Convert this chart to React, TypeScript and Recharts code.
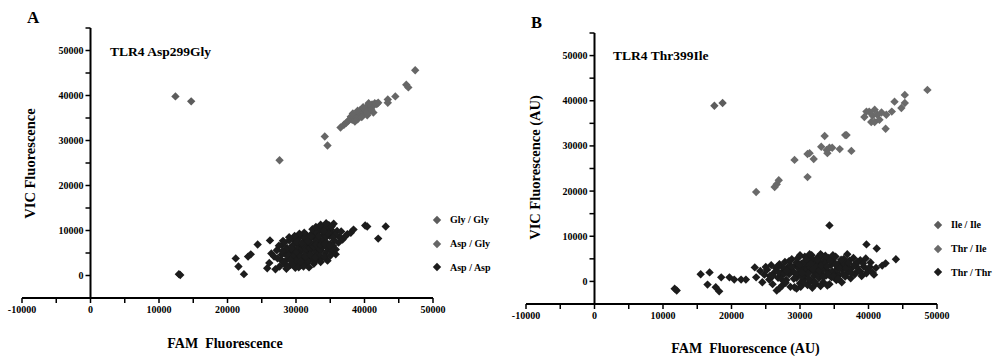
import React from "react";
import {
  ScatterChart,
  Scatter,
  XAxis,
  YAxis,
  ReferenceLine,
  Legend,
} from "recharts";

type Pt = [number, number];

// ---- shared axis ticks ----
const xTicks = [-10000, -5000, 0, 5000, 10000, 15000, 20000, 25000, 30000, 35000, 40000, 45000, 50000];
const yTicks = [0, 5000, 10000, 15000, 20000, 25000, 30000, 35000, 40000, 45000, 50000, 55000];

// ---- panel A: TLR4 Asp299Gly ----
const glyGlyA: Pt[] = [
  [12400, 39800], [14700, 38700],
];

const aspGlyA: Pt[] = [
  [27600, 25600], [34200, 30900], [34600, 28900], [36500, 32900], [37000, 33500],
  [37300, 33900], [37600, 34300], [37900, 34800], [38000, 35300], [38200, 34600],
  [38400, 35300], [38700, 35000], [38900, 35700], [39000, 34700], [39100, 35400],
  [39300, 36100], [39400, 36800], [39500, 35800], [39600, 36500], [39800, 36200],
  [40000, 36900], [40200, 36600], [40300, 37300], [40400, 35600], [40500, 37000],
  [40600, 37900], [40700, 37600], [40900, 37300], [41100, 38000], [41300, 37700],
  [41300, 36200], [41500, 38300], [41800, 38100], [42000, 38400], [43400, 39100],
  [43400, 38400], [44500, 39800], [46100, 42400], [46400, 41800], [47400, 45600],
  [38300, 36000], [39000, 36600], [39800, 37400], [40600, 38300], [38600, 34200],
  [39600, 35200], [40500, 36100], [41000, 36800],
];

const aspAspA: Pt[] = [
  [12900, 300], [13100, 100], [21200, 3800], [21600, 2000], [22400, 300],
  [23000, 4200], [23400, 4700], [24400, 6900], [26200, 7800], [25800, 1600],
  [26100, 2800], [26400, 4900], [26800, 4200], [27200, 5600], [27000, 1400],
  [27600, 2000], [27800, 3500], [28000, 6800], [28100, 7700], [28300, 2600],
  [28400, 4800], [28600, 1500], [28700, 6100], [28800, 3700], [29000, 7800],
  [29100, 5200], [29200, 2300], [29400, 4300], [29500, 6700], [29600, 8100],
  [29700, 3100], [29800, 5600], [29900, 1700], [30000, 7300], [30100, 4700],
  [30200, 2800], [30300, 6200], [30400, 8300], [30500, 3900], [30600, 5200],
  [30700, 7000], [30800, 2400], [30900, 6000], [31000, 8600], [31100, 4300],
  [31200, 3200], [31300, 7500], [31400, 5500], [31500, 9000], [31600, 2800],
  [31700, 6500], [31800, 4700], [31900, 8000], [32000, 3700], [32100, 7200],
  [32200, 5900], [32300, 9300], [32400, 4200], [32500, 6800], [32600, 2600],
  [32700, 8400], [32800, 5300], [32900, 7600], [33000, 3600], [33100, 9600],
  [33200, 6300], [33300, 4700], [33400, 8000], [33500, 10200], [33600, 5600],
  [33700, 7100], [33800, 3900], [33900, 9000], [34000, 6500], [34100, 10800],
  [34200, 8200], [34300, 5000], [34400, 7400], [34500, 9600], [34600, 3300],
  [34700, 6000], [34800, 11200], [34900, 8800], [35000, 7000], [35100, 10200],
  [35200, 5400], [35300, 9300], [35500, 11500], [35600, 7800], [35800, 4700],
  [35800, 5800], [36000, 9900], [36300, 8600], [36800, 8000], [37500, 9200],
  [38000, 9500], [38400, 10200], [40100, 11100], [40400, 10900], [42000, 8200],
  [43100, 10900], [28900, 4500], [29300, 6000], [30000, 5000], [30600, 4200],
  [31000, 6800], [31500, 5900], [32000, 6100], [32300, 7000], [32600, 6400],
  [33000, 7800], [33300, 8700], [33800, 7400], [34300, 8800], [34700, 9400],
  [30200, 7500], [31300, 8400], [32800, 9800], [33400, 6000], [31800, 3200],
  [29600, 4100], [28500, 5800], [27900, 4600], [34500, 11000], [35200, 10900],
  [33900, 10600], [32400, 10300], [31200, 9500],
  [28200, 3000], [28800, 2000], [29500, 2500], [30400, 1800], [31100, 2000],
  [31900, 1800], [32700, 3300], [33500, 4300], [34200, 4200], [35000, 4400],
  [35400, 6600], [35700, 9000], [34000, 9900], [32900, 10800], [33600, 11300],
  [34400, 11600], [30500, 9300], [29800, 8800], [29000, 8500], [28300, 7300],
  [27500, 6600], [30900, 7200], [31700, 7600], [32200, 8700], [32900, 6900],
  [33600, 6800], [34200, 7000], [34900, 6600], [35400, 8400], [36200, 7300],
  [36600, 9800], [37200, 8700], [30000, 3300], [30700, 3100], [31400, 4200],
  [32100, 4600], [32800, 4000], [33600, 3000], [29200, 3400], [28000, 5400],
  [27300, 3800],
];

// ---- panel B: TLR4 Thr399Ile ----
const ileIleB: Pt[] = [
  [17500, 38900], [18700, 39500],
];

const thrIleB: Pt[] = [
  [23600, 19800], [26300, 20900], [26600, 21500], [26900, 22400], [29200, 26900],
  [31100, 28200], [32000, 27100], [31100, 23100], [31400, 28400], [33600, 32200],
  [33100, 29800], [33900, 29100], [34300, 29600], [34000, 28400], [34700, 29600],
  [35800, 29300], [36600, 32400], [36800, 32400], [37500, 28900], [39400, 36400],
  [39700, 37600], [40100, 37600], [40400, 35300], [40600, 36700], [40900, 38000],
  [41300, 36900], [40900, 35300], [41600, 35800], [41900, 37400], [42600, 36900],
  [43400, 37600], [42500, 33800], [43800, 39800], [44800, 38400], [45300, 39500],
  [45300, 41300], [48600, 42400],
];

const thrThrB: Pt[] = [
  [11700, -1600], [12000, -2000], [15500, 1600], [16800, 2000], [16500, -700],
  [17700, -1300], [18200, -2200], [18500, 900], [19700, 900], [20400, 400],
  [21400, 400], [22100, 400], [23400, 3100], [23600, 900], [24500, -200],
  [34300, 12400], [39700, 8200], [41200, 7300], [44000, 4900], [42500, 4000],
  [42000, 3500], [36900, 6000], [40600, 2000],
  [24800, 1500], [25200, 2600], [25500, 400], [25800, 3600], [26000, -600],
  [26200, 1900], [26500, 2900], [26600, -2000], [26800, 800], [27000, 3800],
  [27200, 1200], [27400, -900], [27600, 2400], [27800, 4300], [28000, 300],
  [28200, 3100], [28400, 1600], [28600, -1200], [28800, 4900], [29000, 2200],
  [29200, -1300], [29300, 3500], [29500, 800], [29700, 5200], [29900, 1800],
  [30000, -400], [30200, 3900], [30400, 2800], [30500, 400], [30700, 5500],
  [30800, 1400], [31000, 3300], [31100, -800], [31300, 4600], [31400, 2300],
  [31600, 100], [31700, 5800], [31900, 3700], [32000, 1200], [32200, 4400],
  [32300, -500], [32500, 2700], [32600, 5300], [32800, 800], [32900, 3800],
  [33100, 1900], [33200, 5700], [33400, -200], [33500, 3000], [33700, 4800],
  [33800, 1300], [34000, 2400], [34200, 5200], [34300, -600], [34500, 3600],
  [34600, 900], [34800, 4500], [35000, 2000], [35200, 5500], [35300, 300],
  [35500, 3200], [35700, 1500], [35900, 4300], [36100, -200], [36200, 2600],
  [36400, 5000], [36600, 1100], [36800, 3600], [37000, 2000], [37200, 4600],
  [37400, 700], [37600, 3000], [37800, 5200], [38000, 1600], [38200, 3900],
  [38500, 2400], [38800, 4700], [39000, 1200], [39300, 3300], [39600, 5100],
  [39900, 2600], [40300, 4200], [40800, 1500], [41100, 3000],
  [28500, 2600], [29400, 1700], [30300, 1100], [30900, 2500], [31500, 3000],
  [32100, 2200], [32700, 1600], [33300, 2600], [33900, 3400], [34700, 2200],
  [35400, 2700], [36000, 3600], [30600, 4300], [31800, 4900], [32400, 3300],
  [33600, 4200], [27500, 3100], [26900, 2000], [25600, 1200], [29800, 2900],
  [31200, 1800], [32800, 4600], [34100, 1500], [35800, 2900], [37100, 2800],
  [38300, 3200], [36500, 3900], [33000, -1000], [30100, -1200], [27900, -300],
  [24200, 2300], [25000, 3200],
  [26000, 1200], [26700, 3300], [27300, 500], [27700, 1700], [28100, 2300],
  [28700, 3400], [29100, 600], [29500, 4200], [29900, 3700], [30300, 1900],
  [30600, -300], [31000, 4900], [31300, 500], [31600, 3900], [31900, 2700],
  [32200, -100], [32500, 4800], [32800, 2400], [33100, 3500], [33400, 900],
  [33700, 5700], [34000, 3300], [34400, 4500], [34900, 1200], [35200, 3800],
  [35600, 600], [36000, 4800], [36300, 1600], [36700, 2900], [37100, 4100],
  [37500, 1900], [37900, 3600], [38400, 4300], [38800, 2200], [39200, 4000],
  [39700, 1800], [40200, 3200], [34800, 5800], [33000, 6000], [31400, 6000],
  [30000, 5800], [28400, 4500], [27000, -1500], [29500, -1600], [31800, -1400],
  [34000, -900],
];

const toPts = (arr: Pt[]) => arr.map(([x, y]) => ({ x, y }));

const FONT = '"Liberation Serif", "Times New Roman", serif';
const tickStyle = { fontSize: 10, fontWeight: 700, fill: "#000", fontFamily: FONT };

const Diamond = (props: any) => {
  const { cx, cy, fill } = props;
  const r = 4.2;
  return <path d={`M${cx},${cy - r}L${cx + r},${cy}L${cx},${cy + r}L${cx - r},${cy}Z`} fill={fill} />;
};

interface Series {
  name: string;
  data: Pt[];
  color: string;
}

// legend keeps the series order (recharts sorts by name otherwise)
const makeLegend = (order: string[]) => (props: any) => {
  const items = [...(props.payload || [])].sort(
    (a: any, b: any) => order.indexOf(a.value) - order.indexOf(b.value)
  );
  return (
    <div>
      {items.map((p: any) => (
        <div key={p.value} style={{ display: "flex", alignItems: "center", height: 23.7 }}>
          <svg width={10} height={10}>
            <path d="M5,0.8L9.2,5L5,9.2L0.8,5Z" fill={p.color} />
          </svg>
          <span style={{ marginLeft: 8, fontSize: 10, fontWeight: 700, fontFamily: FONT, color: "#000" }}>
            {p.value}
          </span>
        </div>
      ))}
    </div>
  );
};

interface PanelProps {
  series: Series[];
  width: number;
  margin: { top: number; right: number; bottom: number; left: number };
  legendPos: { left: number; top: number };
}

function Panel({ series, width, margin, legendPos }: PanelProps) {
  return (
    <ScatterChart width={width} height={356} margin={margin}>
      <XAxis
        type="number"
        dataKey="x"
        domain={[-10000, 50000]}
        ticks={xTicks}
        interval={0}
        height={30}
        tickSize={5}
        tickMargin={3}
        tick={tickStyle}
        tickFormatter={(v: number) => (v % 10000 === 0 ? String(v) : "")}
        axisLine={{ stroke: "#000", strokeWidth: 2 }}
        tickLine={{ stroke: "#000", strokeWidth: 1.5 }}
      />
      <YAxis type="number" dataKey="y" domain={[-5000, 55000]} hide />
      <ReferenceLine
        segment={[{ x: 0, y: -5000 }, { x: 0, y: 55000 }]}
        stroke="#000"
        strokeWidth={2}
      />
      {yTicks.map((v) => (
        <ReferenceLine
          key={v}
          segment={[{ x: -730, y: v }, { x: 0, y: v }]}
          stroke="#000"
          strokeWidth={1.5}
          label={
            v % 10000 === 0
              ? { value: String(v), position: "left", offset: 2, ...tickStyle }
              : undefined
          }
        />
      ))}
      {series.map((s) => (
        <Scatter
          key={s.name}
          name={s.name}
          data={toPts(s.data)}
          fill={s.color}
          shape={Diamond}
          isAnimationActive={false}
        />
      ))}
      <Legend
        layout="vertical"
        align="center"
        verticalAlign="middle"
        content={makeLegend(series.map((s) => s.name))}
        wrapperStyle={{ left: legendPos.left, top: legendPos.top, width: 90 }}
      />
    </ScatterChart>
  );
}

const seriesA: Series[] = [
  { name: "Gly / Gly", data: glyGlyA, color: "#5c5c5c" },
  { name: "Asp / Gly", data: aspGlyA, color: "#666666" },
  { name: "Asp / Asp", data: aspAspA, color: "#1c1c1c" },
];

const seriesB: Series[] = [
  { name: "Ile / Ile", data: ileIleB, color: "#5c5c5c" },
  { name: "Thr / Ile", data: thrIleB, color: "#6a6a6a" },
  { name: "Thr / Thr", data: thrThrB, color: "#1c1c1c" },
];

const textStyle = { fontFamily: FONT, fontWeight: 700, fill: "#000" } as const;

export default function App() {
  return (
    <div
      style={{
        position: "absolute",
        left: 0,
        top: 0,
        width: 998,
        height: 356,
        background: "#fff",
        fontFamily: FONT,
      }}
    >
      <div style={{ position: "absolute", left: 0, top: 0 }}>
        <Panel
          series={seriesA}
          width={500}
          margin={{ top: 28, right: 67, bottom: 28, left: 22 }}
          legendPos={{ left: 432, top: 208 }}
        />
      </div>
      <div style={{ position: "absolute", left: 500, top: 0 }}>
        <Panel
          series={seriesB}
          width={498}
          margin={{ top: 33, right: 61, bottom: 22, left: 26 }}
          legendPos={{ left: 433, top: 213 }}
        />
      </div>
      <svg
        width={998}
        height={356}
        style={{ position: "absolute", left: 0, top: 0, pointerEvents: "none" }}
      >
        <text x={27} y={23} fontSize={17} {...textStyle}>A</text>
        <text x={110} y={56} fontSize={13.5} {...textStyle}>TLR4 Asp299Gly</text>
        <text
          transform="translate(35,163.5) rotate(-90)"
          textAnchor="middle"
          fontSize={14.5}
          {...textStyle}
        >
          VIC Fluorescence
        </text>
        <text x={225} y={348} textAnchor="middle" fontSize={14} xmlSpace="preserve" style={{ whiteSpace: "pre" }} {...textStyle}>
          {"FAM  Fluorescence"}
        </text>

        <text x={531} y={28} fontSize={16.5} {...textStyle}>B</text>
        <text x={613} y={59.5} fontSize={13.5} {...textStyle}>TLR4 Thr399Ile</text>
        <text
          transform="translate(540,167.5) rotate(-90)"
          textAnchor="middle"
          fontSize={14.5}
          {...textStyle}
        >
          VIC Fluorescence (AU)
        </text>
        <text x={745.5} y={353} textAnchor="middle" fontSize={14} xmlSpace="preserve" style={{ whiteSpace: "pre" }} {...textStyle}>
          {"FAM  Fluorescence (AU)"}
        </text>
      </svg>
    </div>
  );
}
